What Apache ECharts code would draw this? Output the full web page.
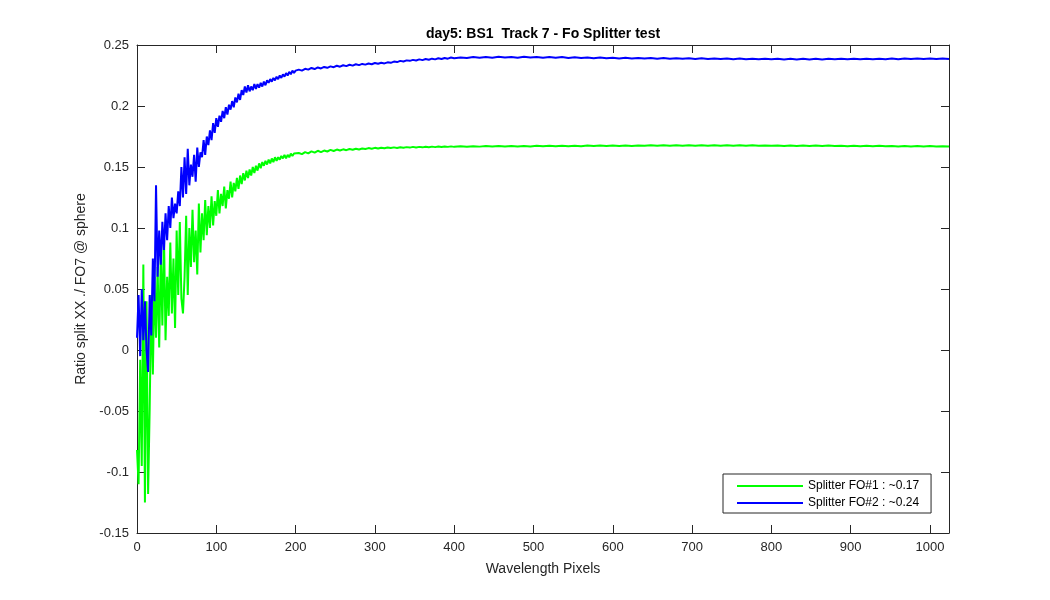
<!DOCTYPE html>
<html>
<head>
<meta charset="utf-8">
<script src="https://cdn.jsdelivr.net/npm/echarts@6/dist/echarts.min.js"></script>
<style>html,body{margin:0;padding:0;background:#fff}#c{width:1050px;height:600px}</style>
</head>
<body>
<div id="c"></div>
<script>
// Sample positions (wavelength pixels)
const pixelX = [
0,2,4,6,8,10,12,14,16,18,20,22,24,26,28,30,32,34,36,38,40,42,44,46,48,50,52,54,56,58,60,62,64,66,68,70,72,74,76,78,80,82,84,86,88,90,92,94,96,98,100,
102,104,106,108,110,112,114,116,118,120,122,124,126,128,130,132,134,136,138,140,142,144,146,148,150,152,154,156,158,160,162,164,166,168,170,172,174,176,178,180,182,184,186,188,190,192,194,196,198,200,
204,208,212,216,220,224,228,232,236,240,244,248,252,256,260,264,268,272,276,280,284,288,292,296,300,304,308,312,316,320,324,328,332,336,340,344,348,352,356,360,364,368,372,376,380,384,388,392,396,400,
408,416,424,432,440,448,456,464,472,480,488,496,504,512,520,528,536,544,552,560,568,576,584,592,600,608,616,624,632,640,648,656,664,672,680,688,696,704,712,720,728,736,744,752,760,768,776,784,792,800,
808,816,824,832,840,848,856,864,872,880,888,896,904,912,920,928,936,944,952,960,968,976,984,992,1000,1008,1016,1024
];
// Splitter FO#1 (green)
const fo1 = [
-0.082,-0.110,-0.008,-0.095,0.070,-0.125,0.040,-0.118,-0.048,0.045,-0.020,0.060,0.010,0.068,0.002,0.080,0.020,0.095,0.008,0.060,0.028,0.088,0.030,0.075,0.018,0.098,0.045,0.105,0.042,0.030,0.060,0.110,0.045,0.100,0.068,0.115,0.072,0.098,0.062,0.120,0.080,0.112,0.090,0.123,0.094,0.118,0.100,0.126,0.102,0.122,0.110,
0.131,0.112,0.128,0.118,0.134,0.116,0.131,0.124,0.138,0.125,0.137,0.130,0.141,0.132,0.143,0.136,0.145,0.139,0.147,0.141,0.148,0.143,0.150,0.145,0.151,0.147,0.153,0.149,0.154,0.151,0.155,0.152,0.156,0.153,0.157,0.154,0.158,0.155,0.158,0.156,0.159,0.157,0.160,0.157,0.160,0.158,0.161,0.159,0.161,0.160,
0.1615,0.1605,0.1622,0.1612,0.1628,0.1618,0.1633,0.1622,0.1635,0.1627,0.1640,0.1631,0.1643,0.1635,0.1645,0.1638,0.1648,0.1641,0.1650,0.1644,0.1652,0.1647,0.1655,0.1649,0.1657,0.1651,0.1658,0.1653,0.1660,0.1655,0.1661,0.1656,0.1662,0.1658,0.1663,0.1659,0.1665,0.1660,0.1665,0.1661,0.1666,0.1662,0.1667,0.1663,0.1668,0.1664,0.1668,0.1665,0.1669,0.1665,
0.1670,0.1666,0.1671,0.1667,0.1672,0.1668,0.1673,0.1668,0.1672,0.1669,0.1673,0.1669,0.1674,0.1670,0.1674,0.1670,0.1675,0.1671,0.1675,0.1671,0.1676,0.1672,0.1676,0.1672,0.1677,0.1673,0.1677,0.1673,0.1677,0.1674,0.1678,0.1674,0.1678,0.1674,0.1678,0.1675,0.1679,0.1675,0.1678,0.1675,0.1679,0.1675,0.1678,0.1675,0.1678,0.1674,0.1678,0.1674,0.1677,0.1674,
0.1677,0.1673,0.1677,0.1673,0.1676,0.1673,0.1676,0.1672,0.1676,0.1672,0.1675,0.1671,0.1675,0.1671,0.1674,0.1670,0.1674,0.1670,0.1673,0.1669,0.1673,0.1669,0.1672,0.1668,0.1672,0.1668,0.1671,0.1668
];
// Splitter FO#2 (blue)
const fo2 = [
0.010,0.045,-0.005,0.050,0.008,0.040,0.000,-0.018,0.045,0.012,0.075,0.040,0.135,0.060,0.098,0.070,0.105,0.082,0.112,0.090,0.118,0.100,0.125,0.108,0.120,0.112,0.130,0.118,0.150,0.125,0.158,0.128,0.165,0.135,0.152,0.142,0.160,0.138,0.166,0.150,0.162,0.158,0.172,0.160,0.175,0.168,0.180,0.172,0.186,0.178,0.190,
0.183,0.192,0.187,0.196,0.190,0.199,0.193,0.201,0.197,0.204,0.199,0.207,0.203,0.210,0.205,0.213,0.209,0.216,0.211,0.217,0.212,0.216,0.213,0.218,0.214,0.218,0.215,0.219,0.216,0.220,0.217,0.221,0.219,0.222,0.220,0.223,0.221,0.224,0.222,0.225,0.223,0.226,0.224,0.227,0.225,0.228,0.226,0.229,0.227,0.229,
0.2298,0.2290,0.2305,0.2298,0.2312,0.2303,0.2316,0.2308,0.2320,0.2313,0.2325,0.2318,0.2330,0.2322,0.2334,0.2327,0.2338,0.2331,0.2342,0.2335,0.2345,0.2339,0.2348,0.2342,0.2352,0.2346,0.2355,0.2349,0.2358,0.2354,0.2364,0.2360,0.2370,0.2365,0.2374,0.2370,0.2378,0.2373,0.2382,0.2376,0.2385,0.2379,0.2388,0.2382,0.2391,0.2385,0.2394,0.2388,0.2397,0.2392,
0.2398,0.2393,0.2401,0.2395,0.2402,0.2396,0.2403,0.2397,0.2402,0.2396,0.2403,0.2397,0.2402,0.2396,0.2401,0.2395,0.2401,0.2394,0.2399,0.2393,0.2398,0.2392,0.2397,0.2391,0.2396,0.2390,0.2395,0.2389,0.2394,0.2389,0.2393,0.2388,0.2393,0.2387,0.2392,0.2387,0.2391,0.2386,0.2391,0.2386,0.2390,0.2385,0.2390,0.2384,0.2389,0.2384,0.2388,0.2383,0.2388,0.2383,
0.2387,0.2382,0.2387,0.2382,0.2387,0.2382,0.2387,0.2382,0.2387,0.2383,0.2387,0.2383,0.2388,0.2383,0.2388,0.2384,0.2388,0.2384,0.2389,0.2384,0.2389,0.2385,0.2389,0.2385,0.2389,0.2385,0.2389,0.2385
];
const seriesNames = ['Splitter FO#1 : ~0.17', 'Splitter FO#2 : ~0.24'];
const seriesColors = ['#00ff00', '#0000ff'];
const titleText = 'day5: BS1  Track 7 - Fo Splitter test';
const xName = 'Wavelength Pixels';
const yName = 'Ratio split XX ./ FO7 @ sphere';

const FONT = '"Liberation Sans", Arial, Helvetica, sans-serif';
const AX = '#262626';
const pair = arr => pixelX.map((x, i) => [x, arr[i]]);

const chart = echarts.init(document.getElementById('c'), null, {renderer: 'canvas'});
const axisCommon = {
  axisLine: {show: true, onZero: false, lineStyle: {color: AX, width: 1}},
  axisTick: {show: true, inside: true, length: 8, lineStyle: {color: AX, width: 1}},
  splitLine: {show: false}
};
chart.setOption({
  animation: false,
  backgroundColor: '#fff',
  title: {
    text: titleText, left: 538, top: 22, textAlign: 'center',
    textStyle: {fontFamily: FONT, fontSize: 14, fontWeight: 'bold', color: '#000'}
  },
  grid: {left: 137, top: 45, width: 812, height: 488, containLabel: false},
  legend: {
    left: 723, top: 474, orient: 'vertical',
    data: seriesNames,
    itemWidth: 66, itemHeight: 14, itemGap: 5,
    padding: [6, 12, 4, 14],
    borderColor: AX, borderWidth: 1, backgroundColor: '#fff',
    textStyle: {fontFamily: FONT, fontSize: 12, color: '#000'},
    icon: 'path://M0,6 L66,6 L66,8 L0,8 Z'
  },
  xAxis: [
    Object.assign({
      type: 'value', min: 0, max: 1024, interval: 100, position: 'bottom',
      name: xName, nameLocation: 'middle', nameGap: 29,
      nameTextStyle: {fontFamily: FONT, fontSize: 14, color: '#262626'},
      axisLabel: {fontFamily: FONT, fontSize: 13, color: '#262626', margin: 8,
        showMaxLabel: false, formatter: v => String(v)}
    }, axisCommon),
    Object.assign({
      type: 'value', min: 0, max: 1024, interval: 100, position: 'top',
      axisLabel: {show: false}
    }, axisCommon)
  ],
  yAxis: [
    Object.assign({
      type: 'value', min: -0.15, max: 0.25, interval: 0.05, position: 'left',
      name: yName, nameLocation: 'middle', nameGap: 46, nameRotate: 90,
      nameTextStyle: {fontFamily: FONT, fontSize: 14, color: '#262626'},
      axisLabel: {fontFamily: FONT, fontSize: 13, color: '#262626', margin: 8,
        formatter: v => String(parseFloat(v.toFixed(2)))}
    }, axisCommon),
    Object.assign({
      type: 'value', min: -0.15, max: 0.25, interval: 0.05, position: 'right',
      axisLabel: {show: false}
    }, axisCommon)
  ],
  series: seriesNames.map((n, k) => ({
    name: n, type: 'line', xAxisIndex: 0, yAxisIndex: 0,
    data: pair(k === 0 ? fo1 : fo2),
    showSymbol: false, symbol: 'none', sampling: null,
    lineStyle: {color: seriesColors[k], width: 2},
    itemStyle: {color: seriesColors[k]},
    emphasis: {disabled: true}, silent: true
  }))
});
</script>
</body>
</html>
